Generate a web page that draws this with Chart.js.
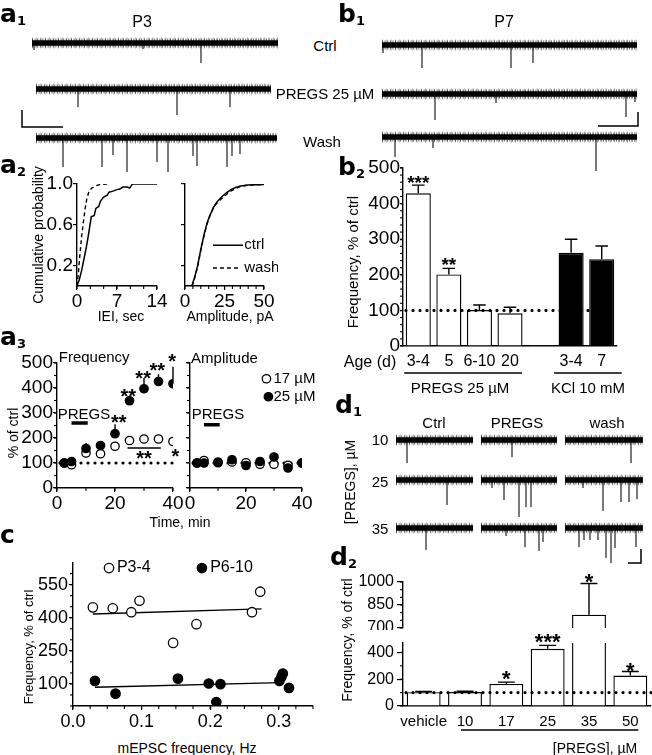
<!DOCTYPE html>
<html>
<head>
<meta charset="utf-8">
<title>PREGS and mEPSC frequency</title>
<script src="https://cdn.jsdelivr.net/npm/chart.js@4.4.1/dist/chart.umd.min.js"></script>
<style>
  body { margin: 0; background: #fff; }
  #fig { position: relative; width: 652px; height: 755px; overflow: hidden; font-family: "Liberation Sans", Arial, sans-serif; color: #000; }
  #fig canvas { position: absolute; }
  .t { position: absolute; white-space: nowrap; line-height: 1; transform: translate(-50%, -50%); }
  .r { transform: translate(-50%, -50%) rotate(-90deg); }
  .pl { position: absolute; font: bold 25px "DejaVu Sans", sans-serif; line-height: 1; }
  .pl sub { font-size: 13px; vertical-align: -3px; }
</style>
</head>
<body>
<div id="fig">
  <canvas id="a1"></canvas>
  <canvas id="b1"></canvas>
  <canvas id="d1"></canvas>
  <canvas id="a2L"></canvas>
  <canvas id="a2R"></canvas>
  <canvas id="b2"></canvas>
  <canvas id="a3L"></canvas>
  <canvas id="a3R"></canvas>
  <canvas id="c"></canvas>
  <canvas id="d2U"></canvas>
  <canvas id="d2L"></canvas>

  <div class="pl" style="left:0;top:1px">a<sub>1</sub></div>
  <div class="pl" style="left:338px;top:1px">b<sub>1</sub></div>
  <div class="pl" style="left:0;top:152px">a<sub>2</sub></div>
  <div class="pl" style="left:338px;top:154px">b<sub>2</sub></div>
  <div class="pl" style="left:0;top:324px">a<sub>3</sub></div>
  <div class="pl" style="left:335px;top:392px">d<sub>1</sub></div>
  <div class="pl" style="left:0;top:522px">c</div>
  <div class="pl" style="left:330px;top:544px">d<sub>2</sub></div>

  <div class="t" style="left:142px;top:22px;font-size:16px">P3</div>
  <div class="t" style="left:504px;top:22px;font-size:16px">P7</div>
  <div class="t" style="left:325px;top:45px;font-size:15px">Ctrl</div>
  <div class="t" style="left:325px;top:93px;font-size:15px">PREGS 25 µM</div>
  <div class="t" style="left:322px;top:141px;font-size:15px">Wash</div>

  <div class="t r" style="left:38px;top:235px;font-size:14px">Cumulative probability</div>
  <div class="t" style="left:121px;top:316px;font-size:14px">IEI, sec</div>
  <div class="t" style="left:230px;top:316px;font-size:14px">Amplitude, pA</div>

  <div class="t r" style="left:352px;top:262px;font-size:15px">Frequency, % of ctrl</div>
  <div class="t" style="left:370px;top:362px;font-size:16px">Age (d)</div>
  <div class="t" style="left:460px;top:387px;font-size:15px">PREGS 25 µM</div>
  <div class="t" style="left:588px;top:387px;font-size:15px">KCl 10 mM</div>

  <div class="t r" style="left:13px;top:433px;font-size:14px">% of ctrl</div>
  <div class="t" style="left:180px;top:522px;font-size:14px">Time, min</div>

  <div class="t" style="left:434px;top:422px;font-size:15px">Ctrl</div>
  <div class="t" style="left:517px;top:422px;font-size:15px">PREGS</div>
  <div class="t" style="left:607px;top:422px;font-size:15px">wash</div>
  <div class="t" style="left:380px;top:439px;font-size:15px">10</div>
  <div class="t" style="left:380px;top:481px;font-size:15px">25</div>
  <div class="t" style="left:380px;top:528px;font-size:15px">35</div>
  <div class="t r" style="left:350px;top:482px;font-size:14px">[PREGS], µM</div>

  <div class="t r" style="left:28px;top:647px;font-size:13px">Frequency, % of ctrl</div>
  <div class="t" style="left:187px;top:748px;font-size:14px">mEPSC frequency, Hz</div>

  <div class="t r" style="left:347px;top:640px;font-size:14px">Frequency, % of ctrl</div>
  <div class="t" style="left:595px;top:748px;font-size:14px">[PREGS], µM</div>
</div>

<script>
// ---------- data ----------

// example traces: rows are [start, length, baseline] (x: time, y: current, downward),
// spikes are [time from start, amplitude] of the events that stand out of the noise
const a1Rows = [[17, 246, 18], [21, 235, 64], [21, 241, 113]]; // Ctrl, PREGS 25 µM, Wash
const a1Spikes = [
  [[2, 7], [111, 6], [169, 20]],
  [[42, 18], [141, 26], [194, 18]],
  [[27, 29], [66, 29], [77, 17], [91, 34], [121, 24], [132, 34], [157, 18], [161, 28], [191, 29], [196, 18], [204, 16]]
];
const a1Bar = [7, 102, 41, 17];

const b1Rows = [[7, 255, 20], [7, 255, 69], [7, 255, 112]];
const b1Spikes = [
  [[1, 8], [40, 23], [129, 23], [151, 18]],
  [[53, 26], [114, 9], [244, 23], [253, 8]],
  [[13, 20], [51, 11], [214, 34]]
];
const b1Bar = [263, 101, -40, 14];

const d1Cols = [[11, 77], [96, 76], [180, 78]];   // Ctrl, PREGS, wash
const d1Base = [15, 55, 103];                     // 10, 25, 35 µM
const d1Spikes = [
  [[[11, 23]], [[31, 17]], [[66, 23]]],
  [[[51, 25]], [[11, 8], [23, 20], [38, 37], [45, 27], [50, 27]], [[18, 8], [38, 31], [56, 22], [64, 22], [72, 19]]],
  [[[30, 22]], [[25, 8], [44, 19], [58, 23], [62, 14]], [[14, 19], [19, 12], [25, 12], [33, 12], [41, 30], [46, 35], [50, 20], [71, 19]]]
];
const d1Bar = [256, 138, -13, 14];

// a2: cumulative distributions [x, probability]
const ieiCtrl = [[0, 0], [0.4, 0.06], [0.8, 0.15], [1.2, 0.26], [1.6, 0.37], [2.0, 0.5], [2.5, 0.68], [3.0, 0.69],
  [3.3, 0.76], [3.8, 0.78], [4.1, 0.83], [4.6, 0.87], [5.3, 0.89], [5.6, 0.92], [6.3, 0.93], [7.0, 0.945],
  [7.5, 0.95], [8.0, 0.97], [8.8, 0.97], [9.2, 0.96], [9.7, 1.0], [14, 1.0]];
const ieiWash = [[0, 0], [0.2, 0.1], [0.5, 0.3], [0.8, 0.48], [1.1, 0.62], [1.4, 0.75], [1.7, 0.85], [2.1, 0.93],
  [2.6, 0.96], [3.2, 0.98], [4.0, 0.995], [5.8, 1.0]];
const ampCtrl = [[4.3, 0], [6, 0.08], [8, 0.2], [10, 0.36], [12, 0.5], [14, 0.62], [16, 0.7], [18, 0.77], [20, 0.82],
  [23, 0.87], [26, 0.91], [29, 0.945], [32, 0.965], [35, 0.98], [40, 0.99], [50, 0.995]];
const ampWash = [[4.5, 0], [6, 0.07], [8, 0.19], [10, 0.35], [12, 0.49], [14, 0.61], [16, 0.7], [18, 0.765], [20, 0.81],
  [23, 0.855], [26, 0.895], [29, 0.93], [32, 0.955], [35, 0.975], [40, 0.99], [50, 0.995]];

// b2: frequency by age
const ageLabels = ['3-4', '5', '6-10', '20', '', '3-4', '7'];
const ageTreat = ['PREGS', 'PREGS', 'PREGS', 'PREGS', '', 'KCl', 'KCl'];
const ageFreq = [429, 201, 101, 92, 2, 262, 244];
const ageErr = [452, 218, 115, 109, null, 300, 281];

// a3: time course
const timeMin = [2.5, 5, 10, 15, 20, 25, 30, 35, 40];
const freq17 = [100, 93, 140, 137, 167, 190, 196, 196, 186];
const freq25 = [100, 106, 158, 170, 217, 349, 397, 426, 417];
const freq25Err = [null, null, 180, 182, 255, 362, 440, 455, 485];
const amp17 = [100, 110, 104, 104, 101, 95, 95, 91, 100];
const amp25 = [100, 100, 101, 113, 90, 106, 124, 80, 100];
const pregsOn = [5, 10.6];

// c: effect vs basal mEPSC frequency
const p34Hz = [0.029, 0.058, 0.085, 0.097, 0.146, 0.18, 0.261, 0.273];
const p34Freq = [447, 443, 425, 477, 286, 371, 425, 518];
const p610Hz = [0.032, 0.062, 0.153, 0.198, 0.209, 0.215, 0.301, 0.304, 0.306, 0.315];
const p610Freq = [114, 56, 124, 102, 18, 99, 114, 132, 147, 82];
const p34Fit = [[0.029, 417], [0.275, 440]];
const p610Fit = [[0.032, 85], [0.302, 106]];

// d2: dose response
const doseLabels = ['vehicle', '10', '17', '25', '35', '50'];
const doseFreq = [103, 104, 165, 427, 787, 227];
const doseErr = [108, 110, 178, 452, 990, 257];

// ---------- helpers ----------
Chart.defaults.font.family = '"Liberation Sans", Arial, sans-serif';
Chart.defaults.color = '#000';
Chart.defaults.animation = false;
Chart.defaults.events = [];
Chart.defaults.plugins.legend.display = false;
Chart.defaults.plugins.tooltip.enabled = false;
Chart.defaults.elements.point.radius = 0;
Chart.defaults.elements.line.tension = 0;

const xy = (arr) => arr.map(([x, y]) => ({ x, y }));
const zipXY = (xs, ys) => xs.map((x, i) => ({ x, y: ys[i] }));
const plain = (v) => String(v);

// plot = chart area on the page, m = [left, top, right, bottom] room around it
function mount(id, plot, m) {
  const c = document.getElementById(id);
  const w = Math.round(plot[2] - plot[0] + m[0] + m[2]);
  const h = Math.round(plot[3] - plot[1] + m[1] + m[3]);
  c.width = w; c.height = h;
  c.style.left = Math.round(plot[0] - m[0]) + 'px';
  c.style.top = Math.round(plot[1] - m[1]) + 'px';
  c.style.width = w + 'px'; c.style.height = h + 'px';
  return c;
}

function opts(m, scales, xHidden) {
  return {
    responsive: false,
    layout: { padding: { left: 0, top: m[1], right: m[2], bottom: xHidden ? m[3] : 0 } },
    scales
  };
}

function axis(size, o) {
  const a = {
    type: o.type || 'linear',
    display: o.display !== false,
    border: { display: true, color: '#000', width: 1.4 },
    grid: { display: !!o.tl, drawOnChartArea: false, color: '#000', lineWidth: 1.2, tickLength: o.tl || 0 },
    ticks: { display: o.labels !== false, font: { size: o.fs || 18 }, padding: o.pad || 0, color: '#000', maxRotation: 0, autoSkip: false },
    afterFit: (s) => {
      if (s.isHorizontal()) s.height = size; else s.width = size;
      s.paddingLeft = s.paddingRight = s.paddingTop = s.paddingBottom = 0;
    }
  };
  if (o.min !== undefined) a.min = o.min;
  if (o.max !== undefined) a.max = o.max;
  if (o.fmt) a.ticks.callback = o.fmt;
  if (o.at) a.afterBuildTicks = (s) => { s.ticks = o.at.map((v) => ({ value: v })); };
  return a;
}

// extra drawing: dotted reference line, error bars, minor ticks, notes, group lines
function deco(o) {
  function ref(c) {
    const r = o.ref, a = c.chartArea, ctx = c.ctx;
    const y = c.scales.y.getPixelForValue(r.y);
    const x0 = a.left + 3;
    const x1 = r.x1 == null ? a.right : c.scales.x.getPixelForValue(r.x1);
    ctx.save();
    ctx.setLineDash([0, 7]); ctx.lineCap = 'round'; ctx.lineWidth = 3.2; ctx.strokeStyle = '#000';
    ctx.beginPath(); ctx.moveTo(x0, y); ctx.lineTo(x1, y); ctx.stroke();
    ctx.restore();
  }
  function marker(ctx, x, y, r, fill) {
    ctx.beginPath(); ctx.arc(x, y, r, 0, Math.PI * 2);
    ctx.fillStyle = fill ? '#000' : '#fff'; ctx.fill();
    ctx.lineWidth = 1.3; ctx.strokeStyle = '#000'; ctx.stroke();
  }
  return {
    id: 'deco',
    beforeDatasetsDraw(c) { if (o.ref && !o.ref.over) ref(c); },
    afterDatasetsDraw(c) {
      const ctx = c.ctx, xs = c.scales.x, ys = c.scales.y;
      if (o.ref && o.ref.over) ref(c);
      ctx.save();
      ctx.strokeStyle = '#000'; ctx.fillStyle = '#000'; ctx.lineWidth = 1.4; ctx.lineCap = 'butt';
      (o.err || []).forEach((e) => {
        const els = c.getDatasetMeta(e.ds).data;
        e.hi.forEach((v, i) => {
          const el = els[i];
          if (v == null || !el || isNaN(el.y) || v > ys.max || v < ys.min) return;
          const top = ys.getPixelForValue(v);
          ctx.beginPath(); ctx.moveTo(el.x, el.y); ctx.lineTo(el.x, top);
          if (e.cap) { const hw = el.width * e.cap / 2; ctx.moveTo(el.x - hw, top); ctx.lineTo(el.x + hw, top); }
          ctx.stroke();
        });
      });
      (o.segs || []).forEach((s) => {
        ctx.save();
        ctx.lineWidth = s.w || 1.4; ctx.setLineDash(s.dash || []);
        ctx.beginPath();
        s.p.forEach(([x, y], i) => {
          const px = xs.getPixelForValue(x), py = ys.getPixelForValue(y);
          if (i) ctx.lineTo(px, py); else ctx.moveTo(px, py);
        });
        ctx.stroke();
        ctx.restore();
      });
      (o.marks || []).forEach((m) => marker(ctx, xs.getPixelForValue(m.x), ys.getPixelForValue(m.y), m.r, m.fill));
      (o.texts || []).forEach((t) => {
        const f = t.f || 15;
        ctx.font = (t.b ? 'bold ' : '') + f + 'px "Liberation Sans", Arial, sans-serif';
        ctx.fillStyle = '#000';
        ctx.textAlign = t.al || 'center';
        const px = xs.getPixelForValue(t.x);
        let py = ys.getPixelForValue(t.y);
        if (t.star) { ctx.textBaseline = 'alphabetic'; py += 0.57 * f; } else ctx.textBaseline = 'middle';
        ctx.fillText(t.s, px, py);
      });
      ctx.restore();
    },
    afterDraw(c) {
      const ctx = c.ctx, a = c.chartArea, len = 3;
      ctx.save();
      ctx.strokeStyle = '#000'; ctx.lineWidth = 1.1;
      const mn = o.minor || {};
      if (mn.x) {
        const [from, to, step] = mn.x, n = Math.floor((to - from) / step + 1e-6);
        for (let k = 0; k <= n; k++) {
          const px = c.scales.x.getPixelForValue(from + k * step);
          ctx.beginPath(); ctx.moveTo(px, a.bottom); ctx.lineTo(px, a.bottom + len); ctx.stroke();
        }
      }
      if (mn.y) {
        const [from, to, step] = mn.y, n = Math.floor((to - from) / step + 1e-6);
        for (let k = 0; k <= n; k++) {
          const py = c.scales.y.getPixelForValue(from + k * step);
          ctx.beginPath(); ctx.moveTo(a.left - len, py); ctx.lineTo(a.left, py); ctx.stroke();
        }
      }
      ctx.lineWidth = 1.4;
      (o.groups || []).forEach((g) => {
        const y = a.bottom + g.dy;
        ctx.beginPath();
        ctx.moveTo(c.scales.x.getPixelForValue(g.from) - g.pl, y);
        ctx.lineTo(c.scales.x.getPixelForValue(g.to) + g.pr, y);
        ctx.stroke();
      });
      ctx.restore();
    }
  };
}

// a noisy recording is drawn as a dark band with hairline fringe, events as thin downward strokes
function traceChart(id, box, rows, spikes, bar) {
  const c = document.getElementById(id);
  c.width = box[2]; c.height = box[3];
  Object.assign(c.style, { left: box[0] + 'px', top: box[1] + 'px', width: box[2] + 'px', height: box[3] + 'px' });
  const band = [], spk = [];
  rows.forEach(([t0, len, base], i) => {
    band.push({ x: t0, y: base }, { x: t0 + len, y: base }, { x: t0 + len, y: null });
    spikes[i].forEach(([t, amp]) => {
      spk.push({ x: t0 + t, y: base }, { x: t0 + t, y: base + amp }, { x: t0 + t, y: null });
    });
  });
  const [bx, by, bh, bv] = bar;
  const line = { type: 'line', fill: false, pointRadius: 0, clip: false, spanGaps: false };
  return new Chart(c, {
    type: 'line',
    data: {
      datasets: [
        { ...line, data: band, borderColor: '#000', borderWidth: 5.5 },
        { ...line, data: spk, borderColor: '#222', borderWidth: 1.2 },
        { ...line, data: band, borderColor: 'rgba(0,0,0,0.6)', borderWidth: 9, borderDash: [1, 1.6] },
        { ...line, data: band, borderColor: 'rgba(0,0,0,0.35)', borderWidth: 11, borderDash: [1, 3.3] },
        { ...line, data: xy([[bx + bh, by], [bx, by], [bx, by - bv]]), borderColor: '#000', borderWidth: 1.5 }
      ]
    },
    options: {
      responsive: false,
      layout: { padding: 0 },
      scales: {
        x: { type: 'linear', display: false, min: 0, max: box[2] },
        y: { type: 'linear', display: false, min: 0, max: box[3], reverse: true }
      }
    }
  });
}

// ---------- a1, b1, d1 traces ----------
traceChart('a1', [15, 25, 285, 155], a1Rows, a1Spikes, a1Bar);
traceChart('b1', [375, 25, 277, 155], b1Rows, b1Spikes, b1Bar);
const d1Rows = [], d1Ev = [];
d1Base.forEach((base, r) => d1Cols.forEach(([t0, len], k) => { d1Rows.push([t0, len, base]); d1Ev.push(d1Spikes[r][k]); }));
traceChart('d1', [385, 425, 267, 145], d1Rows, d1Ev, d1Bar);

// ---------- a2 cumulative plots ----------
const mA2L = [40, 12, 14, 26];
new Chart(mount('a2L', [77, 184, 157, 286], mA2L), {
  type: 'scatter',
  data: { datasets: [
    { data: xy(ieiCtrl), showLine: true, borderColor: '#000', borderWidth: 1.5 },
    { data: xy(ieiWash), showLine: true, borderColor: '#000', borderWidth: 1.4, borderDash: [4, 3] }
  ] },
  options: opts(mA2L, {
    x: axis(mA2L[3], { min: 0, max: 14, at: [0, 7, 14], tl: 4, fs: 19 }),
    y: axis(mA2L[0], { min: 0, max: 1, at: [0.2, 0.6, 1], tl: 4, fs: 19, fmt: (v) => v.toFixed(1) })
  }),
  plugins: [deco({ minor: { x: [0, 14, 7 / 3] } })]
});

const mA2R = [8, 12, 14, 26];
new Chart(mount('a2R', [185, 184, 264, 286], mA2R), {
  type: 'scatter',
  data: { datasets: [
    { data: xy(ampCtrl), showLine: true, borderColor: '#000', borderWidth: 1.5 },
    { data: xy(ampWash), showLine: true, borderColor: '#000', borderWidth: 1.4, borderDash: [4, 3] }
  ] },
  options: opts(mA2R, {
    x: axis(mA2R[3], { min: 0, max: 50, at: [0, 25, 50], tl: 4, fs: 19 }),
    y: axis(mA2R[0], { min: 0, max: 1, at: [0.2, 0.6, 1], tl: 4, labels: false })
  }),
  plugins: [deco({
    minor: { x: [0, 50, 5] },
    segs: [{ p: [[17.7, 0.4], [36.7, 0.4]], w: 1.5 }, { p: [[17.7, 0.176], [35, 0.176]], w: 1.4, dash: [4, 3] }],
    texts: [{ x: 37.5, y: 0.4, s: 'ctrl', al: 'left' }, { x: 37.5, y: 0.176, s: 'wash', al: 'left' }]
  })]
});

// ---------- b2 age bars ----------
const mB2 = [56, 12, 8, 30];
new Chart(mount('b2', [403, 168, 617, 346], mB2), {
  type: 'bar',
  data: { labels: ageLabels, datasets: [{
    data: ageFreq,
    backgroundColor: ageTreat.map((t) => (t === 'KCl' ? '#000' : '#fff')),
    borderColor: '#000', borderWidth: 1.4, barPercentage: 0.82, categoryPercentage: 1
  }] },
  options: opts(mB2, {
    x: axis(mB2[3], { type: 'category', fs: 16, pad: 6 }),
    y: axis(mB2[0], { min: 0, max: 500, at: [0, 100, 200, 300, 400, 500], tl: 3, fs: 19 })
  }),
  plugins: [deco({
    ref: { y: 100, over: true, x1: 5.6 },
    err: [{ ds: 0, hi: ageErr, cap: 0.5 }],
    minor: { y: [0, 500, 20] },
    texts: [{ x: 0, y: 472, s: '***', b: true, f: 19, star: true }, { x: 1, y: 242, s: '**', b: true, f: 19, star: true }],
    groups: [{ from: 0, to: 3, pl: 14, pr: 12, dy: 27 }, { from: 5, to: 6, pl: 17, pr: 20, dy: 27 }]
  })]
});

// ---------- a3 time course ----------
const scatterDs = (xs, ys, fill, r) => ({
  data: zipXY(xs, ys), pointRadius: r, pointBackgroundColor: fill ? '#000' : '#fff',
  pointBorderColor: '#000', pointBorderWidth: 1.3
});
const mA3L = [52, 18, 12, 26];
new Chart(mount('a3L', [57, 363, 173, 488], mA3L), {
  type: 'scatter',
  data: { datasets: [scatterDs(timeMin, freq25, true, 4.2), scatterDs(timeMin, freq17, false, 4.2)] },
  options: opts(mA3L, {
    x: axis(mA3L[3], { min: 0, max: 40, at: [0, 20, 40], tl: 4, fs: 19 }),
    y: axis(mA3L[0], { min: 0, max: 500, at: [0, 100, 200, 300, 400, 500], tl: 4, fs: 19 })
  }),
  plugins: [deco({
    ref: { y: 100 },
    err: [{ ds: 0, hi: freq25Err, cap: 0 }],
    minor: { x: [0, 40, 10], y: [0, 500, 50] },
    segs: [{ p: [[pregsOn[0], 260], [pregsOn[1], 260]], w: 3.5 }, { p: [[24.3, 160], [35.8, 160]], w: 1.3 }],
    texts: [
      { x: 0.6, y: 521, s: 'Frequency', al: 'left', f: 15 },
      { x: 9.3, y: 293, s: 'PREGS', f: 15 },
      { x: 21.3, y: 283, s: '**', b: true, f: 20, star: true },
      { x: 24.6, y: 387, s: '**', b: true, f: 20, star: true },
      { x: 29.7, y: 457, s: '**', b: true, f: 20, star: true },
      { x: 34.6, y: 490, s: '**', b: true, f: 20, star: true },
      { x: 39.7, y: 527, s: '*', b: true, f: 20, star: true },
      { x: 30, y: 137, s: '**', b: true, f: 20, star: true },
      { x: 40.8, y: 144, s: '*', b: true, f: 20, star: true }
    ]
  })]
});

const mA3R = [8, 18, 14, 26];
new Chart(mount('a3R', [190, 363, 302, 488], mA3R), {
  type: 'scatter',
  data: { datasets: [scatterDs(timeMin, amp25, true, 4.2), scatterDs(timeMin, amp17, false, 4.2)] },
  options: opts(mA3R, {
    x: axis(mA3R[3], { min: 0, max: 40, at: [0, 20, 40], tl: 4, fs: 19 }),
    y: axis(mA3R[0], { min: 0, max: 500, at: [0, 100, 200, 300, 400, 500], tl: 4, labels: false })
  }),
  plugins: [deco({
    ref: { y: 100 },
    minor: { x: [0, 40, 10], y: [0, 500, 50] },
    segs: [{ p: [[pregsOn[0], 253], [pregsOn[1], 253]], w: 3.5 }],
    marks: [{ x: 27.3, y: 437, r: 4.2, fill: false }, { x: 28, y: 365, r: 4.2, fill: true }],
    texts: [
      { x: 0.4, y: 517, s: 'Amplitude', al: 'left', f: 15 },
      { x: 10, y: 293, s: 'PREGS', f: 15 },
      { x: 29.8, y: 437, s: '17 µM', al: 'left', f: 15 },
      { x: 29.8, y: 365, s: '25 µM', al: 'left', f: 15 }
    ]
  })]
});

// ---------- c scatter with fits ----------
const mC = [50, 10, 10, 26];
new Chart(mount('c', [73, 563, 313, 706], mC), {
  type: 'scatter',
  data: { datasets: [
    scatterDs(p610Hz, p610Freq, true, 4.7),
    scatterDs(p34Hz, p34Freq, false, 4.7),
    { data: xy(p34Fit), showLine: true, borderColor: '#000', borderWidth: 1.3, pointRadius: 0 },
    { data: xy(p610Fit), showLine: true, borderColor: '#000', borderWidth: 1.3, pointRadius: 0 }
  ] },
  options: opts(mC, {
    x: axis(mC[3], { min: 0, max: 0.35, at: [0, 0.1, 0.2, 0.3], tl: 4, fs: 18, pad: 1, fmt: (v) => v.toFixed(1) }),
    y: axis(mC[0], { min: 0, max: 648, at: [100, 250, 400, 550], tl: 4, fs: 18, pad: 1 })
  }),
  plugins: [deco({
    minor: { x: [0, 0.35, 0.025], y: [0, 648, 50] },
    marks: [{ x: 0.0525, y: 625, r: 4.7, fill: false }, { x: 0.188, y: 625, r: 4.7, fill: true }],
    texts: [{ x: 0.064, y: 625, s: 'P3-4', al: 'left', f: 16 }, { x: 0.2, y: 625, s: 'P6-10', al: 'left', f: 16 }]
  })]
});

// ---------- d2 dose response, broken axis ----------
const barDs = (vals) => ({ data: vals, backgroundColor: '#fff', borderColor: '#000', borderWidth: 1.4, barPercentage: 0.82, categoryPercentage: 1 });
const mD2U = [48, 12, 1, 2];
new Chart(mount('d2U', [403, 582, 651, 628], mD2U), {
  type: 'bar',
  data: { labels: doseLabels, datasets: [barDs(doseFreq.map((v) => (v > 700 ? v : null)))] },
  options: opts(mD2U, {
    x: axis(0, { type: 'category', display: false }),
    y: axis(mD2U[0], { min: 700, max: 1000, at: [700, 850, 1000], tl: 6, fs: 16, pad: 3, fmt: plain })
  }, true),
  plugins: [deco({
    err: [{ ds: 0, hi: doseErr, cap: 0.5 }],
    minor: { y: [700, 1000, 50] },
    texts: [{ x: 4, y: 1037, s: '*', b: true, f: 22, star: true }]
  })]
});

const mD2L = [48, 14, 1, 30];
new Chart(mount('d2L', [403, 643, 651, 706], mD2L), {
  type: 'bar',
  data: { labels: doseLabels, datasets: [barDs(doseFreq)] },
  options: opts(mD2L, {
    x: axis(mD2L[3], { type: 'category', fs: 15, pad: 7 }),
    y: axis(mD2L[0], { min: 0, max: 470, at: [0, 200, 400], tl: 6, fs: 16, pad: 3, fmt: plain })
  }),
  plugins: [deco({
    ref: { y: 100, over: true, x1: 5.55 },
    err: [{ ds: 0, hi: doseErr, cap: 0.5 }],
    minor: { y: [0, 470, 100] },
    texts: [
      { x: 2, y: 240, s: '*', b: true, f: 22, star: true },
      { x: 3, y: 518, s: '***', b: true, f: 22, star: true },
      { x: 5, y: 300, s: '*', b: true, f: 22, star: true }
    ],
    groups: [{ from: 1, to: 5, pl: 4, pr: 8, dy: 24 }]
  })]
});
</script>
</body>
</html>
